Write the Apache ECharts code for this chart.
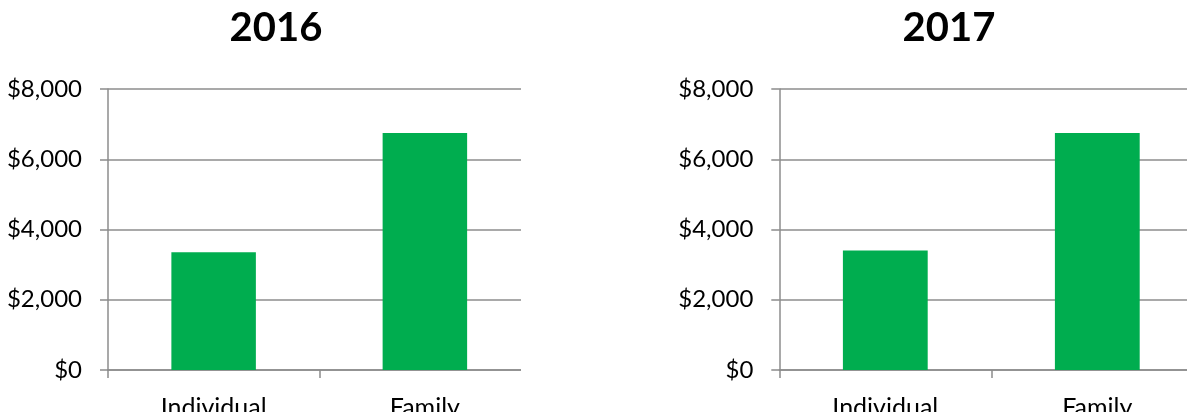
<!DOCTYPE html>
<html>
<head>
<meta charset="utf-8">
<script src="https://cdn.jsdelivr.net/npm/echarts@6/dist/echarts.min.js"></script>
<style>
  html, body { margin: 0; padding: 0; background: #fff; overflow: hidden; }
  .panel { position: absolute; top: 0; height: 412px; overflow: hidden; }
  .chart { height: 430px; }
</style>
</head>
<body>
<div class="panel" style="left:0; width:521px"><div id="left" class="chart" style="width:560px"></div></div>
<div class="panel" style="left:521px; width:666px"><div id="right" class="chart" style="width:720px"></div></div>
<script>
  const categories = ['Individual', 'Family'];
  const values2016 = [3350, 6750];
  const values2017 = [3400, 6750];
  const yTicks = [0, 2000, 4000, 6000, 8000];

  const FONT = 'Lato';
  const GRAY = '#8c8c8c';
  const GREEN = '#00ad4f';

  // one panel, clipped by its wrapper like the original side-by-side charts
  const buildOption = (title, titleX, gridLeft, gridWidth, values) => ({
    animation: false,
    title: {
      text: title,
      left: titleX,
      top: 8,
      padding: 0,
      textAlign: 'center',
      textStyle: { fontFamily: FONT, fontSize: 40, fontWeight: 'bold', color: '#000' },
    },
    grid: { left: gridLeft, width: gridWidth, top: 89, height: 281, containLabel: false },
    xAxis: {
      type: 'category',
      data: categories,
      axisLine: { lineStyle: { color: GRAY, width: 1.5 } },
      axisTick: { show: true, length: 8, lineStyle: { color: GRAY, width: 1.5 } },
      axisLabel: { fontFamily: FONT, fontSize: 25, color: '#000', margin: 25 },
    },
    yAxis: {
      type: 'value',
      min: yTicks[0],
      max: yTicks[yTicks.length - 1],
      interval: 2000,
      axisLine: { show: true, lineStyle: { color: GRAY, width: 1.5 } },
      axisTick: { show: true, length: 8, lineStyle: { color: GRAY, width: 1.5 } },
      splitLine: { lineStyle: { color: GRAY, width: 1.5 } },
      axisLabel: {
        fontFamily: FONT,
        fontSize: 24,
        color: '#000',
        margin: 26,
        formatter: (v) => '$' + v.toLocaleString('en-US'),
      },
    },
    series: [
      {
        type: 'bar',
        data: values,
        barWidth: '40%',
        itemStyle: { color: GREEN },
      },
    ],
  });

  const leftChart = echarts.init(document.getElementById('left'));
  leftChart.setOption(buildOption('2016', 276, 108, 422.5, values2016));

  const rightChart = echarts.init(document.getElementById('right'));
  rightChart.setOption(buildOption('2017', 949 - 521, 779.3 - 521, 424, values2017));
</script>
</body>
</html>
